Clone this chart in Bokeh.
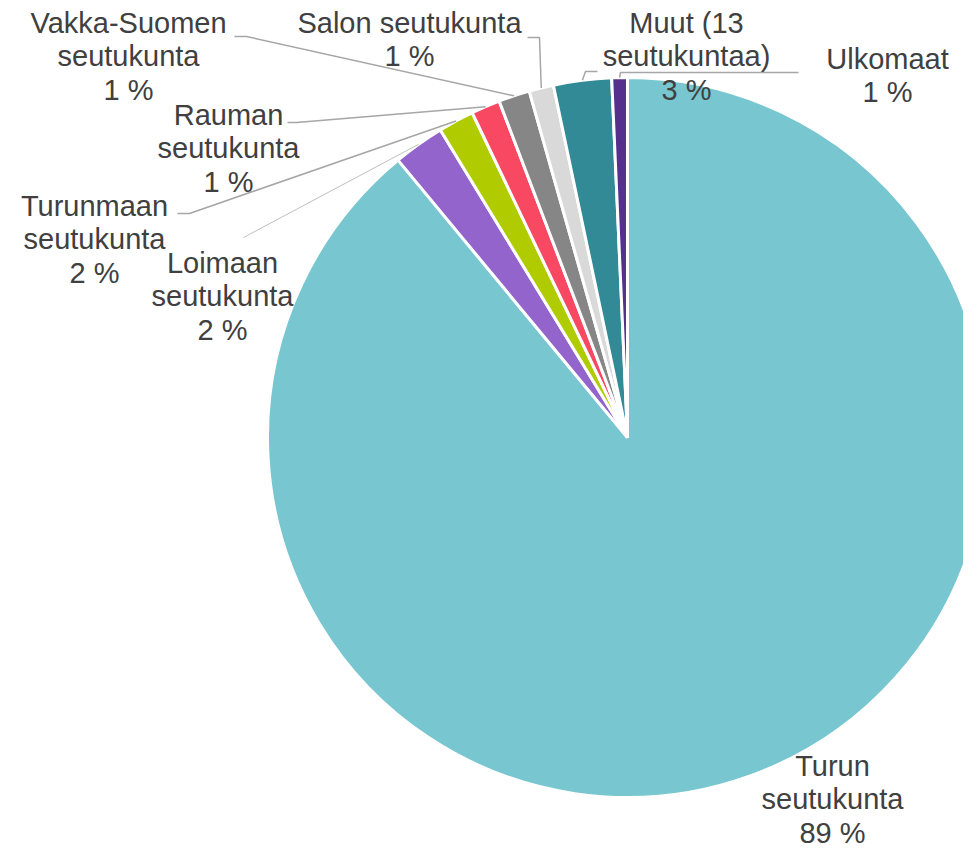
import math
from bokeh.plotting import figure
from bokeh.models import Range1d, ColumnDataSource
from bokeh.core.properties import value
from bokeh.embed import file_html
from bokeh.resources import INLINE

# ---- data ----
regions = ["Turun seutukunta", "Loimaan seutukunta", "Turunmaan seutukunta",
           "Rauman seutukunta", "Vakka-Suomen seutukunta", "Salon seutukunta",
           "Muut (13 seutukuntaa)", "Ulkomaat"]
shares = [89.0, 2.3, 1.6, 1.3, 1.4, 1.1, 2.6, 0.7]
label_lines = [["Turun", "seutukunta"], ["Loimaan", "seutukunta"],
               ["Turunmaan", "seutukunta"], ["Rauman", "seutukunta"],
               ["Vakka-Suomen", "seutukunta"], ["Salon seutukunta"],
               ["Muut (13", "seutukuntaa)"], ["Ulkomaat"]]
colors = ["#78C6D0", "#9264CC", "#B0CB00", "#F84862", "#868686", "#D9D9D9",
          "#318A96", "#55308D"]

# ---- layout (picture pixel coordinates) ----
CX, CY, R = 627, 437, 360
label_pos = [(832, 765), (222, 262), (94, 205), (228, 114), (128, 22),
             (409, 22), (686, 22), (887, 58)]
line_gap = 33.5
leader_start = [None, [(243, 237)], [(177, 213), (189, 213)],
                [(287, 122), (296, 122)], [(234, 36), (246, 36)],
                [(527, 37), (539, 37)], [(597, 71), (585, 71)],
                [(798, 72), (620, 72)]]

W, H = 963, 852
p = figure(width=W, height=H, output_backend="svg", toolbar_location=None,
           x_range=Range1d(0, W), y_range=Range1d(-H, 0),
           min_border=0, outline_line_color=None, background_fill_color="white")
p.axis.visible = False
p.grid.visible = False

total = sum(shares)
starts, ends, mids = [], [], []
cum = 0.0
for s in shares:
    a0 = math.pi / 2 - 2 * math.pi * cum / total
    cum += s
    a1 = math.pi / 2 - 2 * math.pi * cum / total
    starts.append(a0)
    ends.append(a1)
    mids.append((a0 + a1) / 2)

src = ColumnDataSource(dict(x=[CX] * len(shares), y=[-CY] * len(shares),
                            start=starts, end=ends, color=colors))
p.wedge(x="x", y="y", radius=R, start_angle="start", end_angle="end",
        direction="clock", fill_color="color", line_color="white",
        line_width=3, source=src)

# leader lines
for i, pts in enumerate(leader_start):
    if pts is None:
        continue
    ex = CX + R * math.cos(mids[i])
    ey = CY - R * math.sin(mids[i])
    xs = [q[0] for q in pts] + [ex]
    ys = [-q[1] for q in pts] + [-ey]
    col = "#BFBFBF" if i == 1 else "#A6A6A6"
    lw = 1 if i == 1 else 1.5
    p.line(xs, ys, line_color=col, line_width=lw)

# labels
tx, ty, tt = [], [], []
for i, lines in enumerate(label_lines):
    pct = f"{round(shares[i] / total * 100)} %"
    x0, y0 = label_pos[i]
    for k, t in enumerate(lines + [pct]):
        tx.append(x0)
        ty.append(-(y0 + k * line_gap))
        tt.append(t)
p.text(x=tx, y=ty, text=tt, text_align="center", text_baseline="middle",
       text_font=value("Liberation Sans"), text_font_size="29px",
       text_color="#404040")

open("out.html", "w").write(file_html(p, INLINE))
